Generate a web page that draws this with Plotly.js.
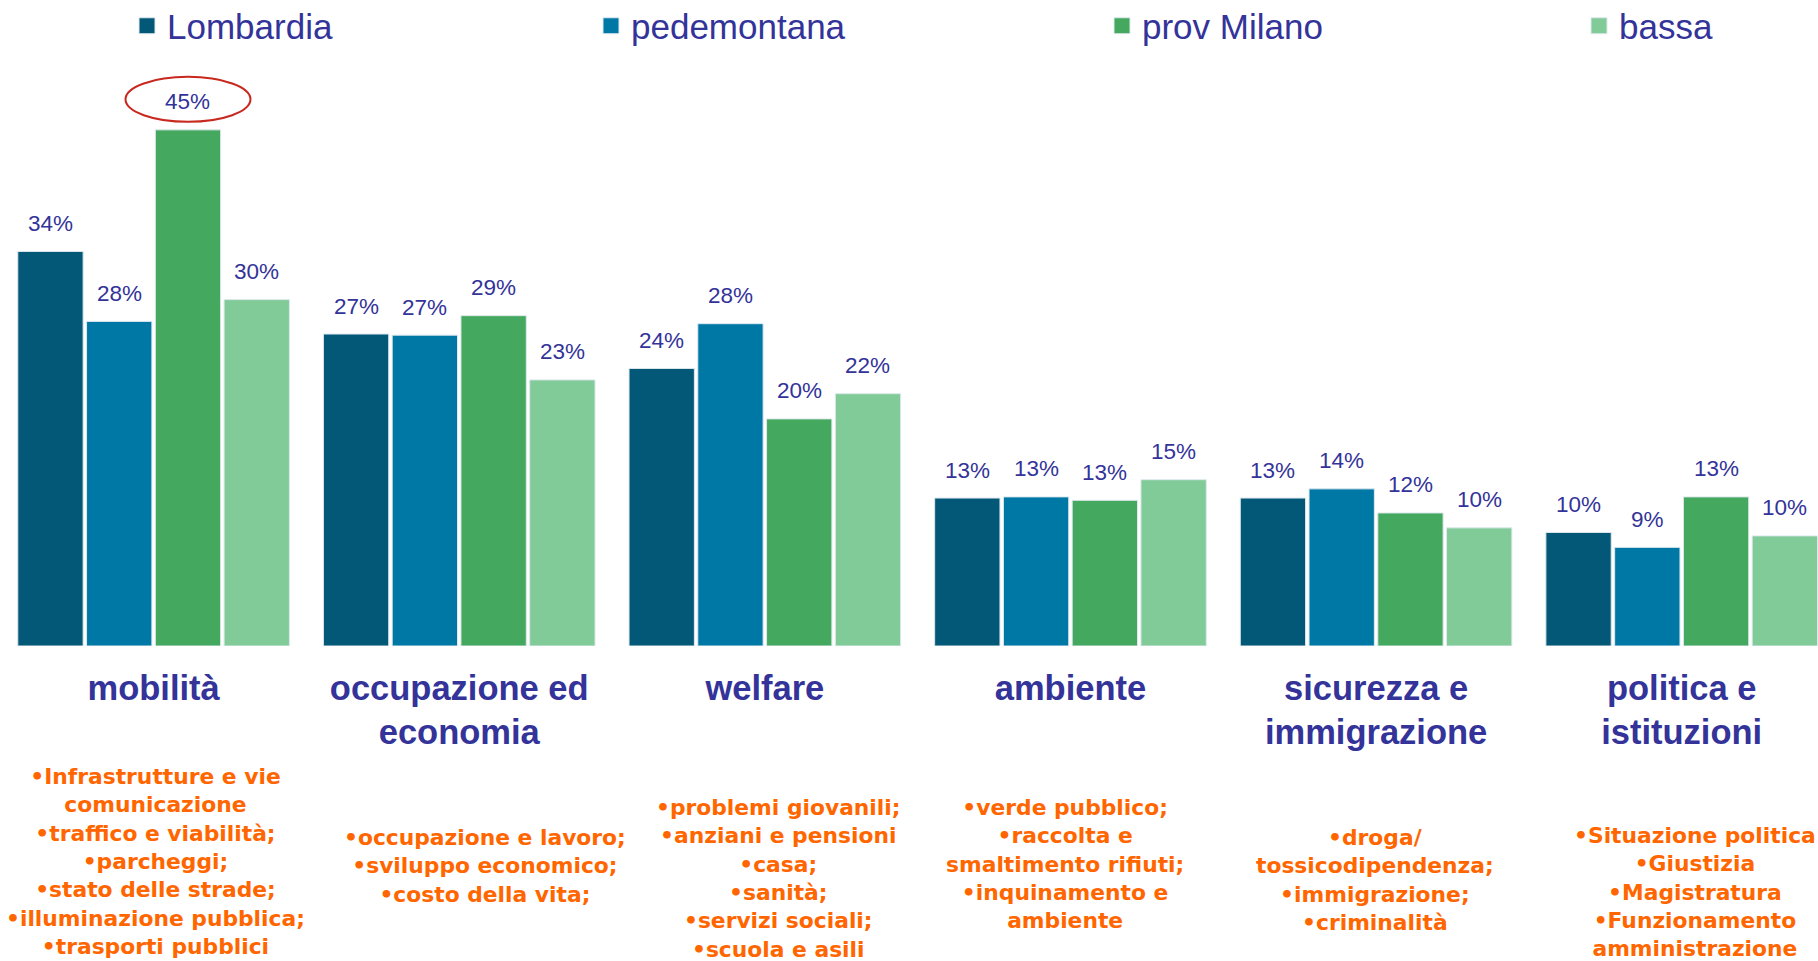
<!DOCTYPE html>
<html><head><meta charset="utf-8">
<script src="https://cdn.plot.ly/plotly-3.0.1.min.js"></script>
<style>html,body{margin:0;padding:0;background:#fff;overflow:hidden}</style>
</head><body><div id="chart" style="width:1818px;height:961px"></div>
<script>
// ---- data ----
const categories = ['mobilità', 'occupazione ed economia', 'welfare', 'ambiente', 'sicurezza e immigrazione', 'politica e istituzioni'];
const tickLabels = ['mobilità', 'occupazione ed<br>economia', 'welfare', 'ambiente', 'sicurezza e<br>immigrazione', 'politica e<br>istituzioni'];
const seriesNames = ['Lombardia', 'pedemontana', 'prov Milano', 'bassa'];
const lombardia   = [34.4, 27.2, 24.2, 12.9, 12.9, 9.9];
const pedemontana = [28.3, 27.1, 28.1, 13.0, 13.7, 8.6];
const provMilano  = [45.0, 28.8, 19.8, 12.7, 11.6, 13.0];
const bassa       = [30.2, 23.2, 22.0, 14.5, 10.3, 9.6];
const subtopics = [
  ['•Infrastrutture e vie', 'comunicazione', '•traffico e viabilità;', '•parcheggi;', '•stato delle strade;', '•illuminazione pubblica;', '•trasporti pubblici'],
  ['•occupazione e lavoro;', '•sviluppo economico;', '•costo della vita;'],
  ['•problemi giovanili;', '•anziani e pensioni', '•casa;', '•sanità;', '•servizi sociali;', '•scuola e asili'],
  ['•verde pubblico;', '•raccolta e', 'smaltimento rifiuti;', '•inquinamento e', 'ambiente'],
  ['•droga/', 'tossicodipendenza;', '•immigrazione;', '•criminalità'],
  ['•Situazione politica', '•Giustizia', '•Magistratura', '•Funzionamento', 'amministrazione']
];
const highlighted = {series: 2, category: 0};

// ---- styling ----
const W = 1818, H = 961, T = 70, B = 315;
const plotH = H - T - B;
const pxPerUnit = 11.47;
const colors = ['#025876', '#0078A6', '#45A85F', '#80CB97'];
const navy = '#333399', orange = '#FF6600';
const bargap = 0.1, bargroupgap = 0.05;
const allSeries = [lombardia, pedemontana, provMilano, bassa];
const legendMarkerX = [147, 611, 1122, 1599];
const subX = [155, 485, 778, 1065, 1375, 1695];
const subTop = [762, 823, 793, 793, 823, 821];
const py = p => (H - B - p) / plotH;

const traces = allSeries.map((vals, s) => ({
  type: 'bar', name: seriesNames[s], x: categories, y: vals,
  marker: {color: colors[s], line: {color: '#dfe8ee', width: 1}},
  showlegend: false, hoverinfo: 'x+y+name'
}));
// legend entries (square swatches)
allSeries.forEach((vals, s) => {
  traces.push({
    type: 'scatter', mode: 'markers', name: seriesNames[s], x: [null], y: [null],
    marker: {symbol: 'square', size: 17, color: colors[s], line: {color: '#dfe8ee', width: 1}},
    legend: s === 0 ? 'legend' : 'legend' + (s + 1), showlegend: true, hoverinfo: 'skip'
  });
});

const slot = (1 - bargap) / allSeries.length;
const annotations = [];
allSeries.forEach((vals, s) => {
  const off = -0.5 * (1 - bargap) + slot * (s + 0.5);
  vals.forEach((v, i) => {
    annotations.push({
      xref: 'x', yref: 'y', x: i + off, y: v, yshift: 28, yanchor: 'middle',
      text: Math.round(v) + '%', showarrow: false,
      font: {family: 'Liberation Sans, Arial, sans-serif', size: 22.5, color: navy}
    });
  });
});
subtopics.forEach((lines, i) => {
  annotations.push({
    xref: 'paper', yref: 'paper', x: subX[i] / W, y: py(subTop[i]),
    xanchor: 'center', yanchor: 'top', align: 'center',
    text: lines.join('<br>'), showarrow: false,
    font: {family: 'DejaVu Sans, sans-serif', size: 21.8, color: orange, weight: 'bold'}
  });
});

const hOff = -0.5 * (1 - bargap) + slot * (highlighted.series + 0.5);
const shapes = [{
  type: 'circle', xref: 'x', yref: 'y', xsizemode: 'pixel', ysizemode: 'pixel',
  xanchor: highlighted.category + hOff, yanchor: allSeries[highlighted.series][highlighted.category],
  x0: -62.5, x1: 62.5, y0: 8, y1: 53,
  line: {color: '#C8281E', width: 2}
}];

const legendFont = {family: 'Liberation Sans, Arial, sans-serif', size: 35, color: navy};
const layout = {
  width: W, height: H,
  margin: {l: 0, r: 0, t: T, b: B, pad: 0, autoexpand: false},
  paper_bgcolor: '#fff', plot_bgcolor: '#fff',
  barmode: 'group', bargap: bargap, bargroupgap: bargroupgap,
  xaxis: {
    type: 'category', range: [-0.5026, 5.446], showgrid: false, zeroline: false, showline: false,
    ticks: '', tickvals: categories, ticktext: tickLabels, fixedrange: true, ticklabelstandoff: 18,
    tickfont: {family: 'Liberation Sans, Arial, sans-serif', size: 34.5, color: navy, weight: 'bold'}
  },
  yaxis: {range: [0, plotH / pxPerUnit], visible: false, fixedrange: true},
  annotations: annotations, shapes: shapes,
  showlegend: true
};
['legend', 'legend2', 'legend3', 'legend4'].forEach((k, s) => {
  layout[k] = {x: (legendMarkerX[s] - 20) / W, xanchor: 'left', y: 1 + (T - 26) / plotH, yanchor: 'middle',
    font: legendFont, bgcolor: 'rgba(0,0,0,0)', borderwidth: 0, orientation: 'h', itemsizing: 'trace'};
});

Plotly.newPlot('chart', traces, layout, {displayModeBar: false, staticPlot: true});
</script></body></html>
